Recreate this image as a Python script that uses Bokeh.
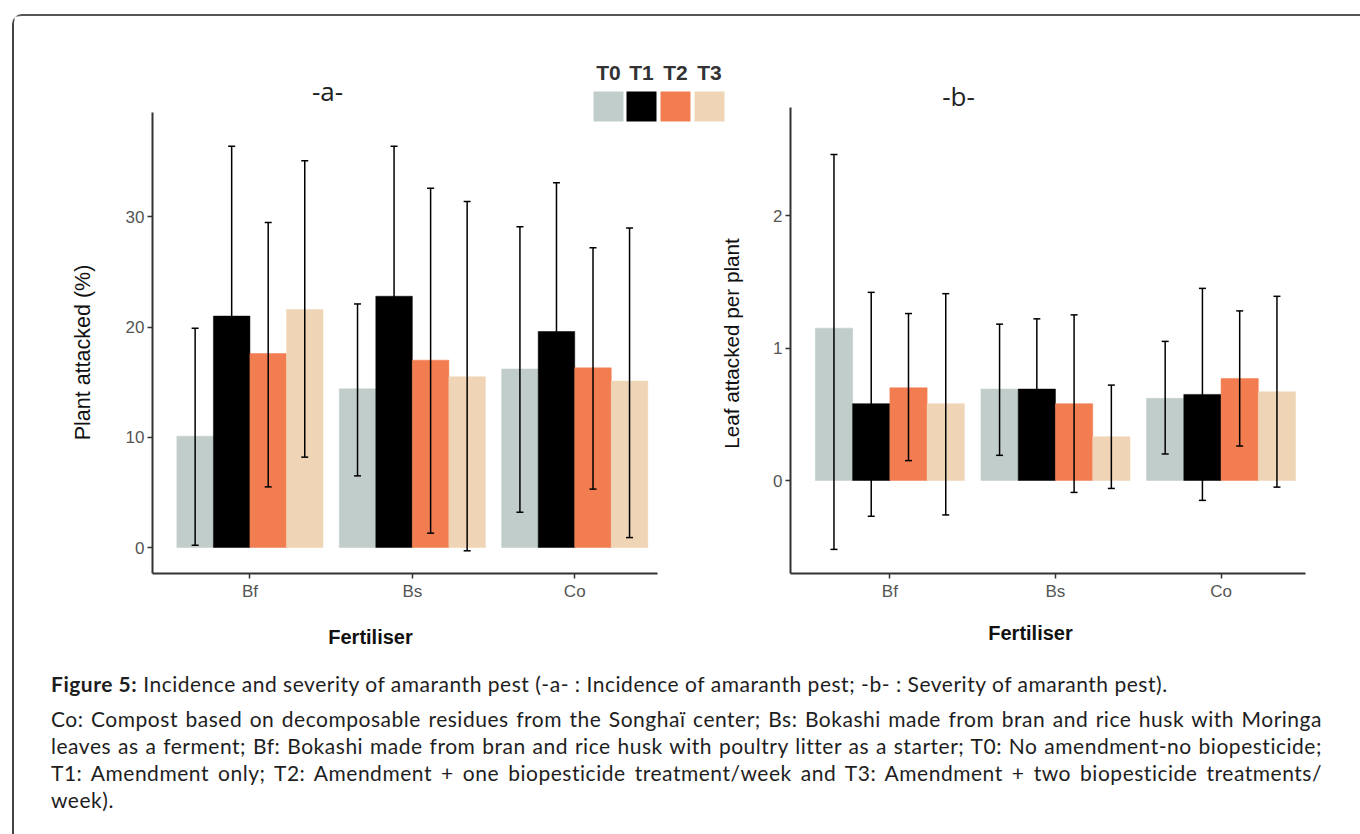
import numpy as np
from bokeh.plotting import figure
from bokeh.models import (ColumnDataSource, Label, BoxAnnotation, FixedTicker, Div,
                          LinearAxis, Range1d)
from bokeh.layouts import column
from bokeh.embed import file_html
from bokeh.resources import INLINE

# ---------------- data ----------------
fertilisers = ["Bf", "Bs", "Co"]
treatments = ["T0", "T1", "T2", "T3"]
colors = ["#C1CDCB", "#000000", "#F27D50", "#EFD5B5"]

# panel a : Plant attacked (%)
inc_mean_T0 = [10.1, 14.4, 16.2]
inc_mean_T1 = [21.0, 22.8, 19.6]
inc_mean_T2 = [17.6, 17.0, 16.3]
inc_mean_T3 = [21.6, 15.5, 15.1]
inc_low_T0 = [0.2, 6.5, 3.2]
inc_low_T1 = [5.6, 9.2, 6.1]
inc_low_T2 = [5.5, 1.3, 5.3]
inc_low_T3 = [8.2, -0.3, 0.9]
inc_high_T0 = [19.9, 22.1, 29.1]
inc_high_T1 = [36.4, 36.4, 33.1]
inc_high_T2 = [29.5, 32.6, 27.2]
inc_high_T3 = [35.1, 31.4, 29.0]

# panel b : Leaf attacked per plant
sev_mean_T0 = [1.15, 0.69, 0.62]
sev_mean_T1 = [0.58, 0.69, 0.65]
sev_mean_T2 = [0.70, 0.58, 0.77]
sev_mean_T3 = [0.58, 0.33, 0.67]
sev_low_T0 = [-0.52, 0.19, 0.20]
sev_low_T1 = [-0.27, 0.16, -0.15]
sev_low_T2 = [0.15, -0.09, 0.26]
sev_low_T3 = [-0.26, -0.06, -0.05]
sev_high_T0 = [2.46, 1.18, 1.05]
sev_high_T1 = [1.42, 1.22, 1.45]
sev_high_T2 = [1.26, 1.25, 1.28]
sev_high_T3 = [1.41, 0.72, 1.39]

inc_ticks = [0, 10, 20, 30]
sev_ticks = [0, 1, 2]

# ---------------- layout / style ----------------
AXIS_FONT = "Liberation Sans"
BAR_W = 0.225
INK = "#000000"
W, H = 1336, 654            # one canvas holding both panels (frame = canvas)

# panel geometry in canvas pixels: y-axis x, x-axis y, axis tops, px per unit
GEO = {
    "a": dict(axis_x=138, axis_y=557, zero_y=531, top_y=96, right_x=643,
              px_x=162.4, px_y=11.02),
    "b": dict(axis_x=776, axis_y=557, zero_y=464, top_y=91, right_x=1291,
              px_x=165.6, px_y=132.5),
}


def ranges_for(g):
    xs = 0.4 - g["axis_x"] / g["px_x"]
    xe = xs + W / g["px_x"]
    ye = g["zero_y"] / g["px_y"]
    ys = -(H - g["zero_y"]) / g["px_y"]
    x_loc = -(g["axis_y"] - g["zero_y"]) / g["px_y"]          # y value of x-axis
    y_top = (g["zero_y"] - g["top_y"]) / g["px_y"]             # top of y-axis line
    x_end = 0.4 + (g["right_x"] - g["axis_x"]) / g["px_x"]     # end of x-axis line
    return (xs, xe), (ys, ye), x_loc, y_top, x_end


ra = ranges_for(GEO["a"])
rb = ranges_for(GEO["b"])

p = figure(frame_width=W, frame_height=H, x_range=ra[0], y_range=ra[1], title=None,
           min_border=0, output_backend="svg", toolbar_location=None)
p.extra_x_ranges = {"b": Range1d(*rb[0])}
p.extra_y_ranges = {"b": Range1d(*rb[1])}
p.xgrid.visible = False
p.ygrid.visible = False
p.outline_line_color = None


def style_axis(ax):
    ax.axis_line_color = "#333333"
    ax.axis_line_width = 2
    ax.major_tick_line_color = "#333333"
    ax.major_tick_line_width = 1.5
    ax.major_tick_in = 0
    ax.major_tick_out = 5
    ax.minor_tick_line_color = None
    ax.major_label_text_font = AXIS_FONT
    ax.major_label_text_font_size = "17px"
    ax.major_label_text_color = "#555555"
    ax.major_label_standoff = 3


xs_cat = np.arange(1, len(fertilisers) + 1)
x_labels = {int(x): f for x, f in zip(xs_cat, fertilisers)}

# panel a axes (default ranges)
xa = p.xaxis[0]
ya = p.yaxis[0]
xa.fixed_location = ra[2]
xa.bounds = (0.4, ra[4])
xa.ticker = FixedTicker(ticks=list(xs_cat))
xa.major_label_overrides = x_labels
ya.fixed_location = 0.4
ya.bounds = (ra[2], ra[3])
ya.ticker = FixedTicker(ticks=inc_ticks)

# panel b axes (named ranges)
xb = LinearAxis(x_range_name="b", y_range_name="b", fixed_location=rb[2],
                bounds=(0.4, rb[4]), ticker=FixedTicker(ticks=list(xs_cat)),
                major_label_overrides=x_labels)
yb = LinearAxis(x_range_name="b", y_range_name="b", fixed_location=0.4,
                bounds=(rb[2], rb[3]), ticker=FixedTicker(ticks=sev_ticks))
p.add_layout(xb, "below")
p.add_layout(yb, "left")
for ax in (xa, ya, xb, yb):
    style_axis(ax)


def draw_panel(means, lows, highs, rname):
    kw = {} if rname is None else dict(x_range_name=rname, y_range_name=rname)
    offsets = (np.arange(len(treatments)) - 1.5) * BAR_W
    srcs = []
    for i, t in enumerate(treatments):
        src = ColumnDataSource(dict(x=xs_cat + offsets[i], top=means[i],
                                    lower=lows[i], upper=highs[i]))
        srcs.append(src)
        p.vbar(x="x", top="top", bottom=0, width=BAR_W, source=src,
               fill_color=colors[i], line_color=colors[i], line_width=0.5, **kw)
    for src in srcs:
        p.segment(x0="x", y0="lower", x1="x", y1="upper", source=src,
                  line_color=INK, line_width=1.5, **kw)
        p.scatter(x="x", y="upper", source=src, marker="dash", size=7,
                  line_color=INK, line_width=1.5, **kw)
        p.scatter(x="x", y="lower", source=src, marker="dash", size=7,
                  line_color=INK, line_width=1.5, **kw)


draw_panel([inc_mean_T0, inc_mean_T1, inc_mean_T2, inc_mean_T3],
           [inc_low_T0, inc_low_T1, inc_low_T2, inc_low_T3],
           [inc_high_T0, inc_high_T1, inc_high_T2, inc_high_T3], None)
draw_panel([sev_mean_T0, sev_mean_T1, sev_mean_T2, sev_mean_T3],
           [sev_low_T0, sev_low_T1, sev_low_T2, sev_low_T3],
           [sev_high_T0, sev_high_T1, sev_high_T2, sev_high_T3], "b")


def canvas_label(x, y, text, size, style="normal", font=AXIS_FONT, color="#111111",
                 angle=0.0):
    p.add_layout(Label(x=x, y=y, x_units="canvas", y_units="canvas", text=text,
                       text_font=font, text_font_size=size, text_font_style=style,
                       text_color=color, text_align="center", text_baseline="middle",
                       angle=angle))


# panel titles
canvas_label(313, 74, "-a-", "26px", font="Open Sans", color="#222222")
canvas_label(944, 79, "-b-", "26px", font="Open Sans", color="#222222")
# axis titles
canvas_label(68, 336, "Plant attacked (%)", "21.5px", angle=np.pi / 2)
canvas_label(717, 327, "Leaf attacked per plant", "20.7px", angle=np.pi / 2)
canvas_label(356, 620, "Fertiliser", "20px", style="bold")
canvas_label(1016, 616, "Fertiliser", "20px", style="bold")

# legend: labels above colour swatches
sw_left = [579, 612, 646, 680]
for i, t in enumerate(treatments):
    l = sw_left[i]
    p.add_layout(BoxAnnotation(left=l, right=l + 30, top=75, bottom=105,
                               left_units="canvas", right_units="canvas",
                               top_units="canvas", bottom_units="canvas",
                               fill_color=colors[i], fill_alpha=1.0, line_color=None))
    canvas_label(l + 15, 56, t, "21px", style="bold", color="#333333")

caption_html = """
<div style="font-family: Lato, 'Open Sans', sans-serif; font-size: 21px; letter-spacing: 0.52px;
            line-height: 27px; color: #1e1e1e; padding-left: 32px; margin-top: -5px;">
  <div style="width: 1271px;"><b>Figure 5:</b> Incidence and severity of amaranth pest (-a- : Incidence of amaranth pest; -b- : Severity of amaranth pest).</div>
  <div style="width: 1271px; margin-top: 8px; text-align: justify; text-align-last: justify;">Co: Compost based on decomposable residues from the Songha\u00ef center; Bs: Bokashi made from bran and rice husk with Moringa</div>
  <div style="width: 1271px; text-align: justify; text-align-last: justify;">leaves as a ferment; Bf: Bokashi made from bran and rice husk with poultry litter as a starter; T0: No amendment-no biopesticide;</div>
  <div style="width: 1271px; text-align: justify; text-align-last: justify;">T1: Amendment only; T2: Amendment + one biopesticide treatment/week and T3: Amendment + two biopesticide treatments/</div>
  <div style="width: 1271px;">week).</div>
</div>
"""
caption = Div(text=caption_html, width=W, height=156)

layout = column(p, caption, margin=(14, 0, 0, 12),
                styles={"border-top": "2px solid #555555",
                        "border-left": "2px solid #444444",
                        "border-top-left-radius": "10px"})

open("out.html", "w").write(file_html(layout, INLINE))
